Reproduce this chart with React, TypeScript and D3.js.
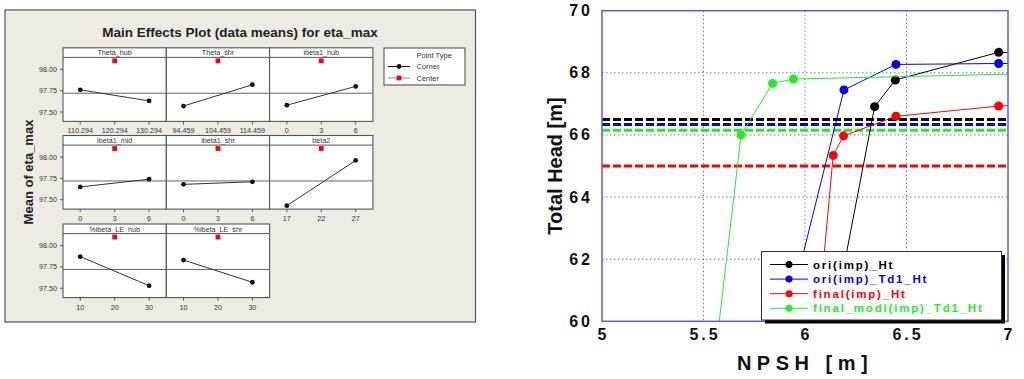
import React from "react";
import * as d3 from "d3";

// ---------- Left: Main Effects Plot data ----------
const factorNames = ["Theta_hub", "Theta_shr", "ibeta1_hub", "ibeta1_mid", "ibeta1_shr", "beta2", "%ibeta_LE_hub", "%ibeta_LE_shr"];
const factorLevels = [
  ["110.294", "120.294", "130.294"],
  ["94.459", "104.459", "114.459"],
  ["0", "3", "6"],
  ["0", "3", "6"],
  ["0", "3", "6"],
  ["17", "22", "27"],
  ["10", "20", "30"],
  ["10", "20", "30"],
];
const cornerLow = [97.76, 97.57, 97.58, 97.65, 97.68, 97.43, 97.87, 97.83];
const cornerHigh = [97.63, 97.82, 97.8, 97.74, 97.71, 97.96, 97.53, 97.57];
const centerValue = 98.1;
const overallMean = 97.72;
const meanTicks = [97.5, 97.75, 98.0];
const pointTypes = ["Corner", "Center"];

// ---------- Right: NPSH curves ----------
const npshTicks = [5, 5.5, 6, 6.5, 7];
const headTicks = [60, 62, 64, 66, 68, 70];
const seriesNames = ["ori(imp)_Ht", "ori(imp)_Td1_Ht", "final(imp)_Ht", "final_modi(imp)_Td1_Ht"];
const oriNpsh = [6.11, 6.343, 6.445, 6.954, 7.1];
const oriHead = [59.0, 66.91, 67.77, 68.66, 68.62];
const oriTdNpsh = [5.87, 6.192, 6.448, 6.954, 7.1];
const oriTdHead = [59.0, 67.45, 68.27, 68.3, 68.3];
const finalNpsh = [6.05, 6.139, 6.19, 6.448, 6.954, 7.1];
const finalHead = [59.0, 65.34, 65.97, 66.6, 66.93, 66.97];
const modiNpsh = [5.56, 5.685, 5.84, 5.943, 7.1];
const modiHead = [59.0, 66.0, 67.66, 67.8, 67.97];
const dropHeads = [66.5, 66.34, 65.0, 66.15];

const seriesColors = ["#000000", "#0000ff", "#ff0000", "#22ee22"];

const leftFont = "'Liberation Sans', Tahoma, sans-serif";
const rightFont = "'Liberation Sans', Arial, sans-serif";

function MainEffects() {
  const colX = [63, 166.3, 269.6];
  const panelW = 103.3;
  const stripTops = [47.8, 135.5, 224];
  const stripH = 9.6;
  const plotH = 64;
  const layout = [
    [0, 0], [0, 1], [0, 2],
    [1, 0], [1, 1], [1, 2],
    [2, 0], [2, 1],
  ];
  const yDomain: [number, number] = [97.39, 98.14];

  return (
    <g>
      <rect x={5} y={10} width={470.5} height={312} fill="#eeebe3" stroke="#555" strokeWidth={1.2} />
      <text x={240} y={37} textAnchor="middle" fontFamily={rightFont} fontWeight="bold" fontSize={13.5} fill="#222">
        Main Effects Plot (data means) for eta_max
      </text>
      <text
        transform="translate(33,172) rotate(-90)"
        textAnchor="middle"
        fontFamily={rightFont}
        fontWeight="bold"
        fontSize={13}
        fill="#222"
      >
        Mean of eta_max
      </text>
      {factorNames.map((name, i) => {
        const [r, c] = layout[i];
        const x0 = colX[c];
        const sTop = stripTops[r];
        const pTop = sTop + stripH;
        const pBot = pTop + plotH;
        const xs = d3.scalePoint<string>().domain(factorLevels[i]).range([x0, x0 + panelW]).padding(0.5);
        const ys = d3.scaleLinear().domain(yDomain).range([pBot, pTop]);
        const lvl = factorLevels[i];
        const pts: [number, number][] = [
          [xs(lvl[0])!, ys(cornerLow[i])],
          [xs(lvl[2])!, ys(cornerHigh[i])],
        ];
        return (
          <g key={name}>
            <rect x={x0} y={sTop} width={panelW} height={stripH + plotH} fill="#fff" />
            <text x={x0 + panelW / 2} y={sTop + 7.5} textAnchor="middle" fontFamily={leftFont} fontSize={7.2} fill="#333">
              {name}
            </text>
            <line x1={x0} x2={x0 + panelW} y1={pTop} y2={pTop} stroke="#555" strokeWidth={1} />
            <line x1={x0} x2={x0 + panelW} y1={ys(overallMean)} y2={ys(overallMean)} stroke="#666" strokeWidth={1} />
            <path d={d3.line()(pts)!} stroke="#333" strokeWidth={1} fill="none" />
            {pts.map((p, k) => (
              <circle key={k} cx={p[0]} cy={p[1]} r={2.4} fill="#111" />
            ))}
            <rect x={xs(lvl[1])! - 2.4} y={ys(centerValue) - 2.4} width={4.8} height={4.8} fill="#ff0000" />
            <rect x={x0} y={sTop} width={panelW} height={stripH + plotH} fill="none" stroke="#555" strokeWidth={1.1} />
            {lvl.map((t) => (
              <g key={t}>
                <line x1={xs(t)!} x2={xs(t)!} y1={pBot} y2={pBot + 3} stroke="#555" />
                <text x={xs(t)!} y={pBot + 12} textAnchor="middle" fontFamily={leftFont} fontSize={7.2} fill="#333">
                  {t}
                </text>
              </g>
            ))}
            {c === 0 &&
              meanTicks.map((t) => (
                <g key={t}>
                  <line x1={x0 - 3} x2={x0} y1={ys(t)} y2={ys(t)} stroke="#555" />
                  <text x={x0 - 6} y={ys(t) + 2.6} textAnchor="end" fontFamily={leftFont} fontSize={7.2} fill="#333">
                    {t.toFixed(2)}
                  </text>
                </g>
              ))}
          </g>
        );
      })}
      {/* legend */}
      <rect x={384} y={48} width={81} height={37} fill="#fff" stroke="#555" strokeWidth={1.1} />
      <text x={416.5} y={58} fontFamily={leftFont} fontSize={7.5} fill="#333">
        Point Type
      </text>
      {pointTypes.map((p, k) => {
        const y = 66.5 + k * 11.5;
        return (
          <g key={p}>
            <line x1={388} x2={410} y1={y} y2={y} stroke={k === 0 ? "#111" : "#888"} strokeWidth={1} />
            {k === 0 ? (
              <circle cx={399} cy={y} r={2.4} fill="#111" />
            ) : (
              <rect x={396.6} y={y - 2.4} width={4.8} height={4.8} fill="#ff0000" />
            )}
            <text x={416.5} y={y + 2.7} fontFamily={leftFont} fontSize={7.5} fill="#333">
              {p}
            </text>
          </g>
        );
      })}
    </g>
  );
}

function NpshChart() {
  const x0 = 602;
  const x1 = 1008;
  const y0 = 10.7;
  const y1 = 321.3;
  const xs = d3.scaleLinear().domain([5, 7]).range([x0, x1]);
  const ys = d3.scaleLinear().domain([60, 70]).range([y1, y0]);
  const seriesX = [oriNpsh, oriTdNpsh, finalNpsh, modiNpsh];
  const seriesY = [oriHead, oriTdHead, finalHead, modiHead];
  const frame = "#5a5af0";
  const ls = 3;

  return (
    <g>
      <defs>
        <clipPath id="plotClip">
          <rect x={x0} y={y0} width={x1 - x0} height={y1 - y0} />
        </clipPath>
      </defs>
      <rect x={x0} y={y0} width={x1 - x0} height={y1 - y0} fill="#fff" />
      {npshTicks.slice(1, -1).map((t) => (
        <line key={t} x1={xs(t)} x2={xs(t)} y1={y0} y2={y1} stroke="#6a6af5" strokeWidth={1} strokeDasharray="1.5,2.5" />
      ))}
      {headTicks.slice(1, -1).map((t) => (
        <line key={t} x1={x0} x2={x1} y1={ys(t)} y2={ys(t)} stroke="#6a6af5" strokeWidth={1} strokeDasharray="1.5,2.5" />
      ))}
      <g clipPath="url(#plotClip)">
        {dropHeads.map((h, i) => (
          <line key={i} x1={x0} x2={x1} y1={ys(h)} y2={ys(h)} stroke={seriesColors[i]} strokeWidth={3} strokeDasharray="8,3" />
        ))}
        {seriesX.map((xsArr, si) => {
          const pts: [number, number][] = xsArr.map((v, k) => [xs(v), ys(seriesY[si][k])]);
          const path = d3.line()(pts)!;
          return (
            <g key={si}>
              <path d={path} stroke={seriesColors[si]} strokeWidth={1} fill="none" />
              {pts.map((p, k) => (
                <circle key={k} cx={p[0]} cy={p[1]} r={4.5} fill={seriesColors[si]} />
              ))}
            </g>
          );
        })}
      </g>
      <rect x={x0} y={y0} width={x1 - x0} height={y1 - y0} fill="none" stroke={frame} strokeWidth={1.5} />
      {headTicks.map((t) => (
        <text
          key={t}
          x={590 + ls}
          y={ys(t) + 5.5}
          textAnchor="end"
          fontFamily={rightFont}
          fontWeight="bold"
          fontSize={16}
          letterSpacing={ls}
          fill="#111"
        >
          {t}
        </text>
      ))}
      {npshTicks.map((t) => (
        <text
          key={t}
          x={xs(t) + ls / 2}
          y={340}
          textAnchor="middle"
          fontFamily={rightFont}
          fontWeight="bold"
          fontSize={16}
          letterSpacing={ls}
          fill="#111"
        >
          {t}
        </text>
      ))}
      <text
        x={805}
        y={370}
        textAnchor="middle"
        fontFamily={rightFont}
        fontWeight="bold"
        fontSize={20}
        letterSpacing={5.5}
        fill="#111"
      >
        NPSH [m]
      </text>
      <text
        transform="translate(562,166) rotate(-90)"
        textAnchor="middle"
        fontFamily={rightFont}
        fontWeight="bold"
        fontSize={20}
        fill="#111"
      >
        Total Head [m]
      </text>
      {/* legend */}
      <rect x={765} y={255} width={240} height={68.5} fill="#000" />
      <rect x={761.5} y={251.5} width={240} height={68.5} fill="#fff" stroke="#333" strokeWidth={1} />
      {seriesNames.map((n, i) => {
        const y = 264.5 + i * 14.6;
        return (
          <g key={n}>
            <line x1={770} x2={808} y1={y} y2={y} stroke={seriesColors[i]} strokeWidth={1} />
            <circle cx={789} cy={y} r={3.5} fill={seriesColors[i]} />
            <text x={813} y={y + 4} fontFamily={rightFont} fontWeight="bold" fontSize={11.5} letterSpacing={1.8} fill={seriesColors[i]}>
              {n}
            </text>
          </g>
        );
      })}
    </g>
  );
}

export default function App() {
  return (
    <svg
      width={1024}
      height={379}
      viewBox="0 0 1024 379"
      style={{ position: "absolute", left: 0, top: 0, background: "#fff" }}
    >
      <MainEffects />
      <NpshChart />
    </svg>
  );
}
